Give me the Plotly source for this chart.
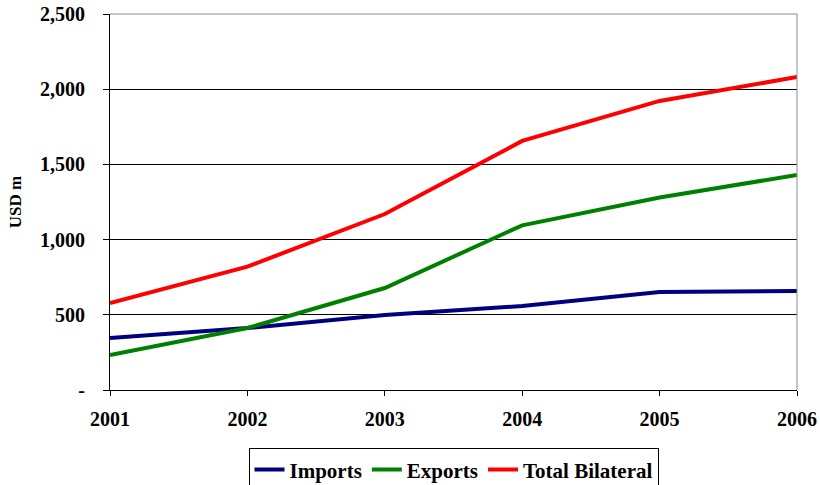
import plotly.graph_objects as go

years = [2001, 2002, 2003, 2004, 2005, 2006]
imports = [346, 412, 499, 558, 652, 658]
exports = [233, 412, 678, 1095, 1280, 1430]
total_bilateral = [578, 820, 1170, 1656, 1922, 2081]

y_tickvals = [0, 500, 1000, 1500, 2000, 2500]
y_ticktext = ["-", "500", "1,000", "1,500", "2,000", "2,500"]

series = [
    ("Imports", imports, "#000080"),
    ("Exports", exports, "#008000"),
    ("Total Bilateral", total_bilateral, "#FF0000"),
]

font_family = "Liberation Serif, Times New Roman, serif"

fig = go.Figure()
for name, values, color in series:
    fig.add_trace(go.Scatter(
        x=years, y=values, name=name, mode="lines",
        line=dict(color=color, width=4),
    ))

fig.update_layout(
    width=820, height=485,
    margin=dict(l=110, r=23, t=14, b=95, autoexpand=False),
    paper_bgcolor="white", plot_bgcolor="white",
    font=dict(family=font_family, color="black", size=20, weight="bold"),
    showlegend=True,
    legend=dict(
        orientation="h", x=0.5, xanchor="center", y=-0.155, yanchor="top",
        bordercolor="black", borderwidth=1, bgcolor="white",
        font=dict(family=font_family, size=21, weight="bold"),
        itemwidth=30,
    ),
    shapes=[
        dict(type="line", xref="paper", yref="paper", x0=0, x1=1, y0=1, y1=1,
             line=dict(color="#8c8c8c", width=1), layer="above"),
        dict(type="line", xref="paper", yref="paper", x0=1, x1=1, y0=0, y1=1,
             line=dict(color="#8c8c8c", width=1), layer="above"),
    ],
)

fig.update_xaxes(
    range=[2001, 2006], tickvals=years, ticktext=[str(y) for y in years],
    showgrid=False, zeroline=False,
    showline=True, linecolor="black", linewidth=1,
    ticks="outside", ticklen=5, tickcolor="black",
    ticklabelstandoff=6,
    tickfont=dict(family=font_family, size=20, weight="bold"),
)

fig.update_yaxes(
    range=[0, 2500], tickvals=y_tickvals, ticktext=y_ticktext,
    showgrid=True, gridcolor="black", gridwidth=1, zeroline=False,
    showline=True, linecolor="black", linewidth=1,
    ticks="outside", ticklen=6, tickcolor="black",
    ticklabelstandoff=14,
    tickfont=dict(family=font_family, size=20, weight="bold"),
    title=dict(text="USD m", standoff=14,
               font=dict(family=font_family, size=17, weight="bold")),
)

fig.write_html("out.html")
